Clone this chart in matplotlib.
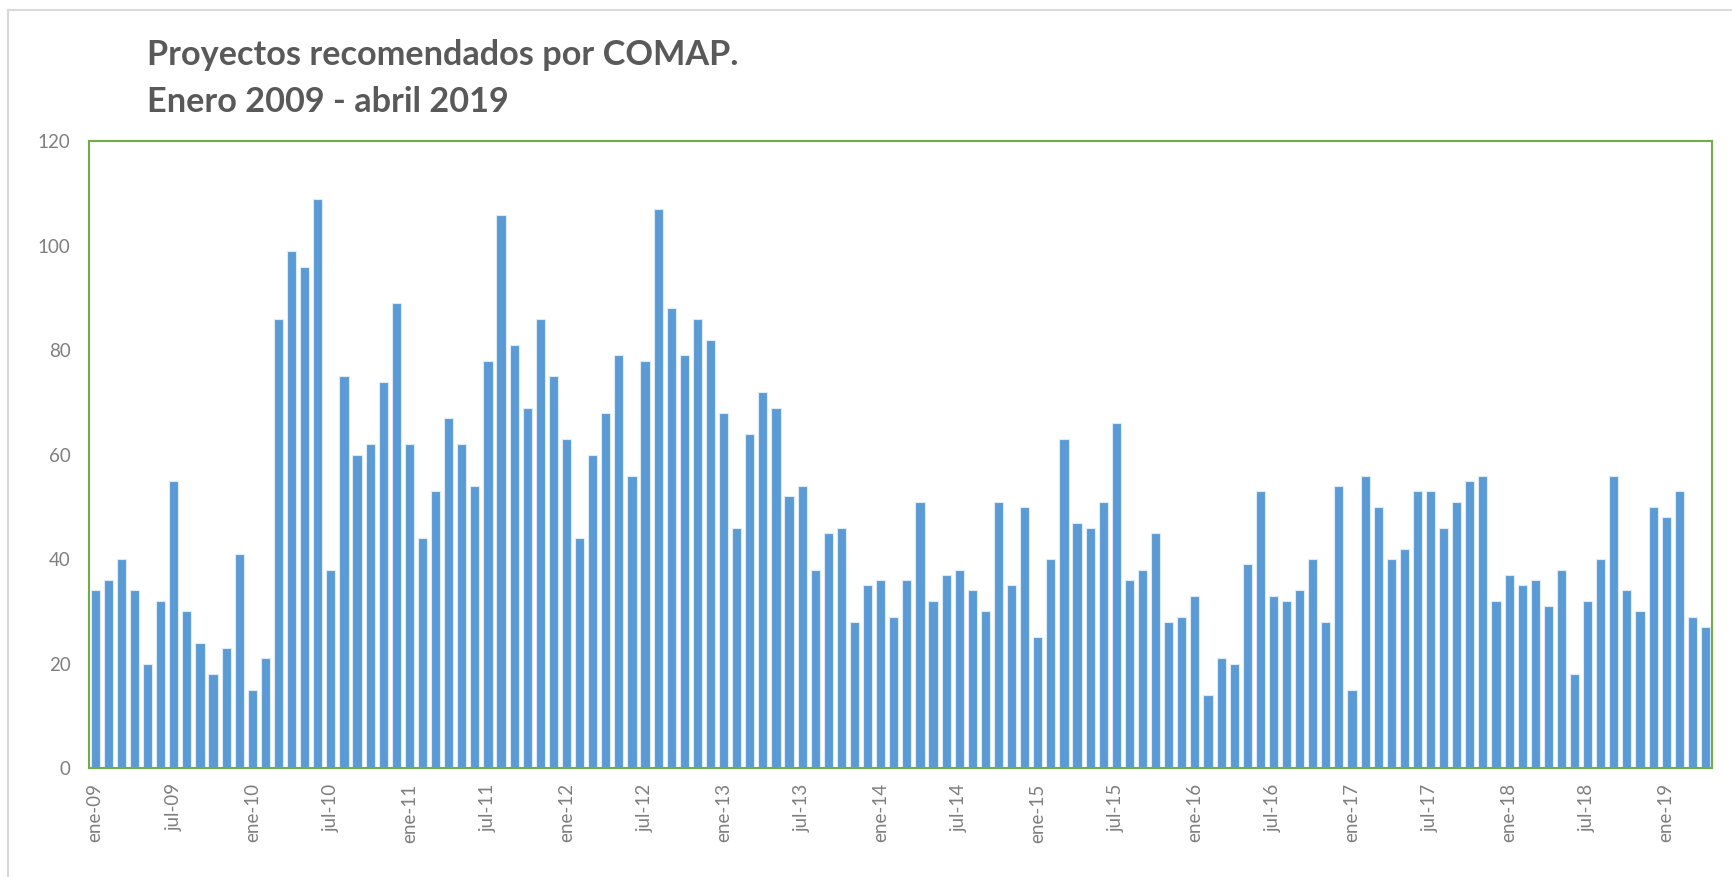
import matplotlib
matplotlib.use("Agg")
import matplotlib.pyplot as plt
from matplotlib.lines import Line2D
import numpy as np

plt.rcParams['font.family'] = ['Lato', 'DejaVu Sans']

# monthly values, ene-2009 .. abr-2019
v2009 = [34, 36, 40, 34, 20, 32, 55, 30, 24, 18, 23, 41]
v2010 = [15, 21, 86, 99, 96, 109, 38, 75, 60, 62, 74, 89]
v2011 = [62, 44, 53, 67, 62, 54, 78, 106, 81, 69, 86, 75]
v2012 = [63, 44, 60, 68, 79, 56, 78, 107, 88, 79, 86, 82]
v2013 = [68, 46, 64, 72, 69, 52, 54, 38, 45, 46, 28, 35]
v2014 = [36, 29, 36, 51, 32, 37, 38, 34, 30, 51, 35, 50]
v2015 = [25, 40, 63, 47, 46, 51, 66, 36, 38, 45, 28, 29]
v2016 = [33, 14, 21, 20, 39, 53, 33, 32, 34, 40, 28, 54]
v2017 = [15, 56, 50, 40, 42, 53, 53, 46, 51, 55, 56, 32]
v2018 = [37, 35, 36, 31, 38, 18, 32, 40, 56, 34, 30, 50]
v2019 = [48, 53, 29, 27]

years = ["09", "10", "11", "12", "13", "14", "15", "16", "17", "18", "19"]
months = ["ene", "feb", "mar", "abr", "may", "jun",
          "jul", "ago", "sep", "oct", "nov", "dic"]

values = (v2009 + v2010 + v2011 + v2012 + v2013 + v2014 + v2015
          + v2016 + v2017 + v2018 + v2019)
labels = [f"{m}-{y}" for y in years for m in months][:len(values)]

x = np.arange(len(values))

fig = plt.figure(figsize=(17.33, 8.77), dpi=100)
ax = fig.add_axes([88.7 / 1733, 1 - 768 / 877, (1712 - 88.7) / 1733, (768 - 141.4) / 877])

ax.bar(x, values, width=0.7, color='#5B9BD5', edgecolor='#DDEBF7', linewidth=0.8)

ax.set_xlim(-0.5, len(values) - 0.5)
ax.set_ylim(0, 120)
ax.set_yticks(range(0, 121, 20))
ax.set_xticks(x[::6])
ax.set_xticklabels(labels[::6], rotation=90)
ax.tick_params(axis='both', length=0, labelsize=13.5, labelcolor='#7F7F7F')
ax.tick_params(axis='y', pad=13)
ax.tick_params(axis='x', pad=11)

for s in ax.spines.values():
    s.set_color('#70AD47')
    s.set_linewidth(1.5)

fig.text(147 / 1733, 1 - 65 / 877, "Proyectos recomendados por COMAP.",
         fontsize=24.7, fontweight='bold', color='#595959', va='baseline')
fig.text(147 / 1733, 1 - 112 / 877, "Enero 2009 - abril 2019",
         fontsize=24.7, fontweight='bold', color='#595959', va='baseline')

# outer chart-area border (light grey, left and top only visible)
bx = 8 / 1733
by = 1 - 10 / 877
fig.add_artist(Line2D([bx, bx], [0, by], transform=fig.transFigure, color='#D9D9D9', linewidth=1.5))
fig.add_artist(Line2D([bx, 1], [by, by], transform=fig.transFigure, color='#D9D9D9', linewidth=1.5))

fig.savefig("out.png", dpi=100)
